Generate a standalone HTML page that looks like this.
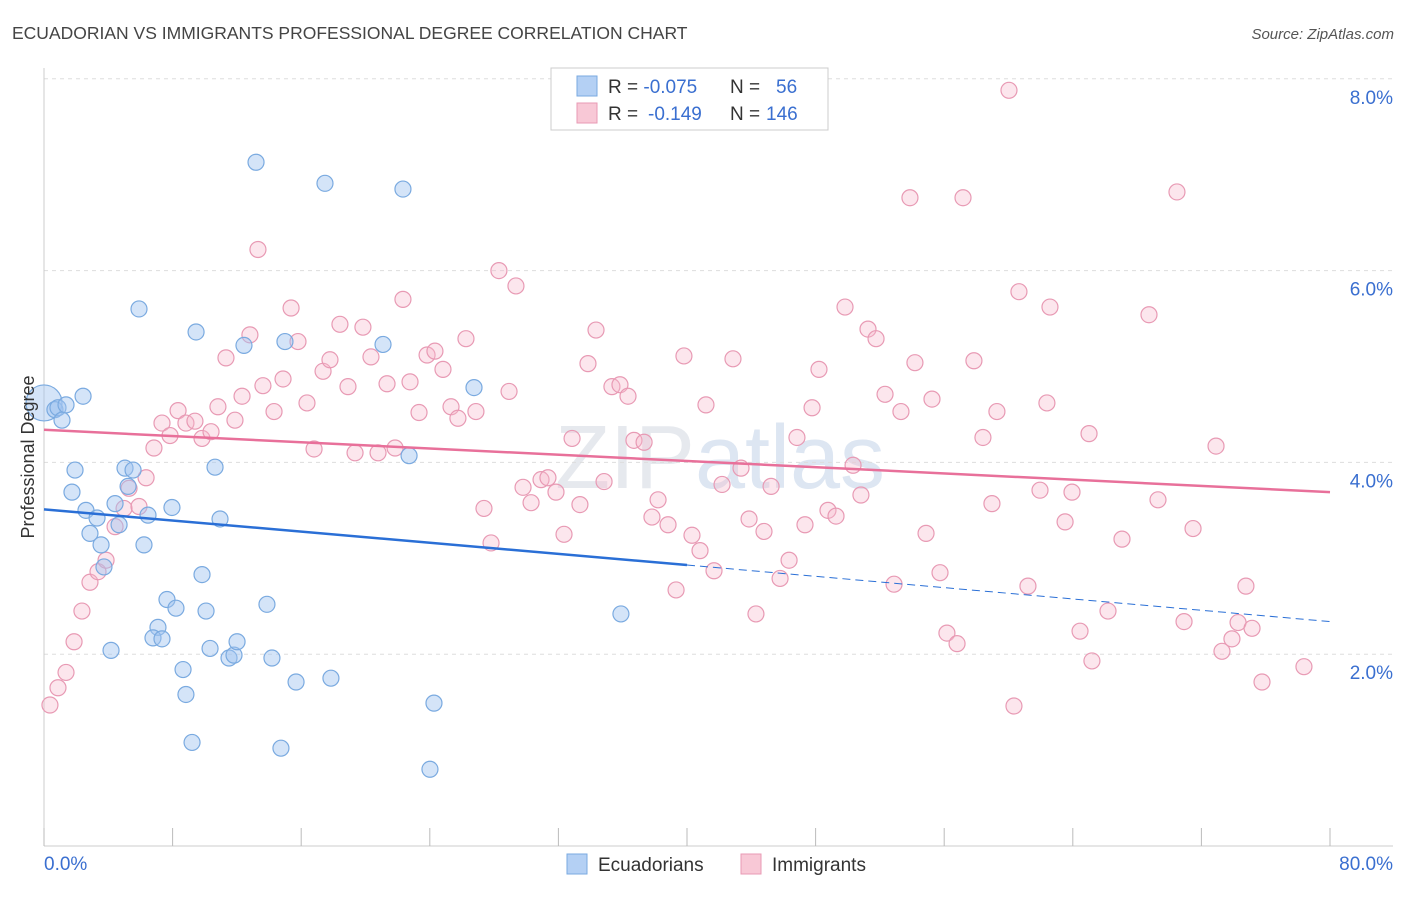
<!DOCTYPE html>
<html><head><meta charset="utf-8"><style>
body{margin:0;background:#fff;font-family:"Liberation Sans",sans-serif}
svg text{font-family:"Liberation Sans",sans-serif}
</style></head><body>
<svg id="chart" width="1406" height="892">
<text x="12" y="39" font-size="17.5" fill="#444">ECUADORIAN VS IMMIGRANTS PROFESSIONAL DEGREE CORRELATION CHART</text>
<text x="1394" y="39" font-size="15" fill="#555" font-style="italic" text-anchor="end">Source: ZipAtlas.com</text>
<text x="720" y="488" font-size="90" fill="#e6e9ee" text-anchor="middle" font-family="Liberation Serif">ZIP<tspan fill="#dde6f2" font-family="Liberation Sans">atlas</tspan></text>
<g id="grid"></g><g id="axes"></g><g id="pts"></g><g id="trend"></g>
<text transform="translate(34,457) rotate(-90)" font-size="18" fill="#333" text-anchor="middle">Professional Degree</text>
<g>
<rect x="551" y="68" width="277" height="62" fill="#fff" stroke="#ccc"/>
<rect x="577" y="76" width="20" height="20" fill="#b4d0f4" stroke="#7aaae0"/>
<rect x="577" y="103" width="20" height="20" fill="#f8c8d6" stroke="#e89ab4"/>
<text x="608" y="93" font-size="19" fill="#333">R = <tspan fill="#3a6fd0">-0.075</tspan><tspan x="730">N = </tspan><tspan x="776" fill="#3a6fd0">56</tspan></text>
<text x="608" y="120" font-size="19" fill="#333">R = <tspan x="648" fill="#3a6fd0">-0.149</tspan><tspan x="730">N = </tspan><tspan x="766" fill="#3a6fd0">146</tspan></text>
</g>
<g>
<rect x="567" y="854" width="20" height="20" fill="#b4d0f4" stroke="#7aaae0"/>
<text x="598" y="871" font-size="19" fill="#333">Ecuadorians</text>
<rect x="741" y="854" width="20" height="20" fill="#f8c8d6" stroke="#e89ab4"/>
<text x="772" y="871" font-size="19" fill="#333">Immigrants</text>
</g>
</svg>
<script>
const yTicks=[2,4,6,8];
const yTickLabels=["2.0%","4.0%","6.0%","8.0%"];
const xTicks=[0,8,16,24,32,40,48,56,64,72,80];
const xLabels=["0.0%","80.0%"];
const blueX=[0,0.68,0.87,1.37,1.12,2.43,1.93,1.74,2.61,3.30,2.86,3.55,3.73,4.17,4.67,4.42,5.04,5.54,5.23,6.47,6.22,5.91,7.96,7.65,8.21,7.09,6.78,7.34,8.65,8.83,9.21,9.83,10.08,10.33,10.64,10.95,9.46,11.51,11.82,12.01,13.19,12.44,13.87,14.18,14.74,14.99,15.68,17.48,17.85,21.09,22.33,22.71,24.26,24.01,26.75,35.89];
const blueY=[4.62,4.55,4.57,4.60,4.44,4.69,3.92,3.69,3.50,3.42,3.26,3.14,2.91,2.04,3.35,3.57,3.94,3.92,3.75,3.45,3.14,5.60,3.53,2.57,2.48,2.28,2.17,2.16,1.84,1.58,1.08,2.83,2.45,2.06,3.95,3.41,5.36,1.96,1.99,2.13,7.13,5.22,2.52,1.96,1.02,5.26,1.71,6.91,1.75,5.23,6.85,4.07,1.49,0.80,4.78,2.42];
const pinkX=[0.37,0.87,1.37,1.87,2.36,2.86,3.36,3.86,4.42,4.98,5.29,5.91,6.35,6.84,7.34,7.84,8.34,8.83,9.39,9.83,10.39,10.82,11.32,11.88,12.32,12.81,13.31,13.62,14.31,14.87,15.37,15.80,16.36,16.80,17.36,17.79,18.41,18.91,19.35,19.84,20.34,20.78,21.34,21.84,22.33,22.77,23.33,23.83,24.32,24.82,25.32,25.75,26.25,26.87,27.37,27.81,28.30,28.93,29.36,29.80,30.30,30.92,31.35,31.85,32.35,32.85,33.34,33.84,34.34,34.84,35.33,35.83,36.33,36.70,37.33,37.82,38.20,38.82,39.32,39.81,40.31,40.81,41.18,41.68,42.18,42.86,43.36,43.86,44.29,44.79,45.23,45.79,46.35,46.84,47.34,47.78,48.21,48.77,49.27,49.83,50.33,50.82,51.26,51.76,52.32,52.88,53.31,53.87,54.18,54.87,55.24,55.74,56.17,56.80,57.17,57.85,58.41,58.97,59.28,60.03,60.34,60.65,61.21,61.96,62.39,62.58,63.52,63.95,64.45,65.01,65.19,66.19,67.06,68.74,69.30,70.48,70.92,71.48,72.91,73.28,73.90,74.28,74.77,75.15,75.77,78.38];
const pinkY=[1.47,1.65,1.81,2.13,2.45,2.75,2.86,2.98,3.33,3.52,3.73,3.54,3.84,4.15,4.41,4.28,4.54,4.41,4.43,4.25,4.32,4.58,5.09,4.44,4.69,5.33,6.22,4.80,4.53,4.87,5.61,5.26,4.62,4.14,4.95,5.07,5.44,4.79,4.10,5.41,5.10,4.10,4.82,4.15,5.70,4.84,4.52,5.12,5.16,4.97,4.58,4.46,5.29,4.53,3.52,3.16,6.00,4.74,5.84,3.74,3.58,3.82,3.84,3.69,3.25,4.25,3.56,5.03,5.38,3.80,4.79,4.81,4.69,4.23,4.21,3.43,3.61,3.35,2.67,5.11,3.24,3.08,4.60,2.87,3.77,5.08,3.94,3.41,2.42,3.28,3.75,2.79,2.98,4.26,3.35,4.57,4.97,3.50,3.44,5.62,3.97,3.66,5.39,5.29,4.71,2.73,4.53,6.76,5.04,3.26,4.66,2.85,2.22,2.11,6.76,5.06,4.26,3.57,4.53,7.88,1.46,5.78,2.71,3.71,4.62,5.62,3.38,3.69,2.24,4.30,1.93,2.45,3.20,5.54,3.61,6.82,2.34,3.31,4.17,2.03,2.16,2.33,2.71,2.27,1.71,1.87];
const blueTrend=[3.51,2.93,2.34]; // at x=0, 40, 80
const pinkTrend=[4.34,3.69]; // at x=0, 80
const X=v=>44+v*16.075, Y=v=>846-v*95.9;
const NS="http://www.w3.org/2000/svg";
function mk(tag,attrs,parent){const e=document.createElementNS(NS,tag);for(const k in attrs)e.setAttribute(k,attrs[k]);document.getElementById(parent).appendChild(e);return e;}
yTicks.forEach((t,i)=>{
 const l=mk('line',{x1:44,x2:1393,y1:Y(t),y2:Y(t),stroke:'#ddd','stroke-dasharray':'4,4'},'grid');
 
 
 const tx=mk('text',{x:1393,y:Y(t)+25,'font-size':19,fill:'#3a6fd0','text-anchor':'end'},'grid');
 tx.textContent=yTickLabels[i];
 
 
});
const xl=mk('line',{x1:44,x2:1393,y1:846,y2:846,stroke:'#ccc'},'axes');


const yl=mk('line',{x1:44,x2:44,y1:68,y2:846,stroke:'#ccc'},'axes');


xTicks.forEach(t=>{const l=mk('line',{x1:X(t),x2:X(t),y1:828,y2:846,stroke:'#bbb'},'axes');
 
 });
[[0,'start',44],[80,'end',1393]].forEach((a,i)=>{const t=mk('text',{x:a[2],y:870,'font-size':19,fill:'#3a6fd0','text-anchor':a[1]},'axes');t.textContent=xLabels[i];
 
 });
pinkX.forEach((v,i)=>{const c=mk('circle',{cx:X(v),cy:Y(pinkY[i]),r:8,fill:'rgba(246,182,202,0.35)',stroke:'#e89ab4','stroke-width':1.2},'pts');
 
 });
blueX.forEach((v,i)=>{const c=mk('circle',{cx:X(v),cy:Y(blueY[i]),r:i==0?18:8,fill:'rgba(160,196,240,0.45)',stroke:'#7aaae0','stroke-width':1.2},'pts');
 
 });
const pt=mk('line',{x1:X(0),y1:Y(pinkTrend[0]),x2:X(80),y2:Y(pinkTrend[1]),stroke:'#e8709a','stroke-width':2.5},'trend');


const bt=mk('line',{x1:X(0),y1:Y(blueTrend[0]),x2:X(40),y2:Y(blueTrend[1]),stroke:'#2a6fd6','stroke-width':2.5},'trend');


const bd=mk('line',{x1:X(40),y1:Y(blueTrend[1]),x2:X(80),y2:Y(blueTrend[2]),stroke:'#2a6fd6','stroke-width':1,'stroke-dasharray':'8,5'},'trend');


</script>
</body></html>
